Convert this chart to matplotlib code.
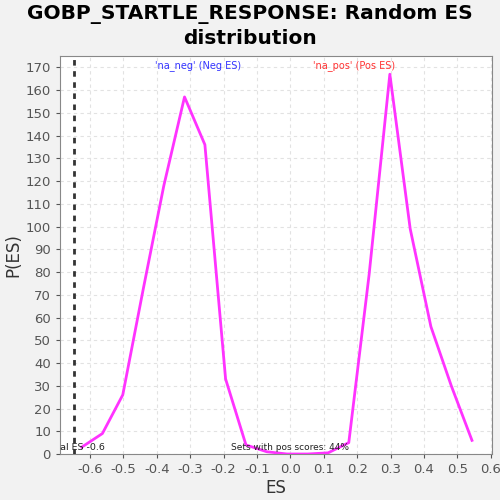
import numpy as np
import matplotlib
matplotlib.use("Agg")
import matplotlib.pyplot as plt

# random ES distribution
es_values = [-0.625, -0.563, -0.502, -0.44, -0.379, -0.317, -0.256, -0.194,
             -0.133, -0.071, -0.01, 0.052, 0.113, 0.175, 0.236, 0.298,
             0.359, 0.421, 0.482, 0.544]
p_es = [3, 9, 26, 73, 118, 157, 136, 33, 4, 1, 0, 0, 0.5, 5, 79, 167,
        99, 56, 30, 6]
real_es = -0.648
x_ticks = np.round(np.arange(-0.6, 0.61, 0.1), 1)
y_ticks = np.arange(0, 171, 10)

fig = plt.figure(figsize=(5, 5), dpi=100, facecolor="#f2f2f2")
ax = fig.add_axes([0.12, 0.092, 0.864, 0.796])
ax.set_facecolor("white")

ax.plot(es_values, p_es, color="#ff33ff", lw=2, zorder=3)
ax.axvline(real_es, color="#333333", lw=2, ls=(0, (2, 2)), zorder=4)

ax.set_xlim(-0.69, 0.604)
ax.set_ylim(0, 175)
ax.set_xticks(x_ticks)
ax.set_xticklabels([f"{abs(t):.1f}" if t == 0 else f"{t:.1f}" for t in x_ticks])
ax.set_yticks(y_ticks)
ax.grid(True, color="#e2e2e2", ls=(0, (3, 3)), lw=0.8)
ax.set_axisbelow(True)
ax.tick_params(colors="#555555", labelsize=9.5, length=3)
for s in ax.spines.values():
    s.set_color("#888888")

ax.set_xlabel("ES", fontsize=12, color="#333333", labelpad=2)
ax.set_ylabel("P(ES)", fontsize=12, color="#333333", labelpad=2)
fig.suptitle("GOBP_STARTLE_RESPONSE: Random ES\ndistribution",
             fontsize=14.5, fontweight="heavy", y=0.992, linespacing=1.3)

ax.text(-0.275, 171, "'na_neg' (Neg ES)", color="#3333ff", fontsize=7,
        ha="center", va="center")
ax.text(0.19, 171, "'na_pos' (Pos ES)", color="#ff3333", fontsize=7,
        ha="center", va="center")
ax.text(-0.555, 1, "Real ES -0.6", fontsize=6.8, color="#222222",
        ha="right", va="bottom", clip_on=True)
ax.text(0.0, 1, "Sets with pos scores: 44%", fontsize=6.5, color="#222222",
        ha="center", va="bottom")

fig.savefig("out.png", dpi=100, facecolor=fig.get_facecolor())
